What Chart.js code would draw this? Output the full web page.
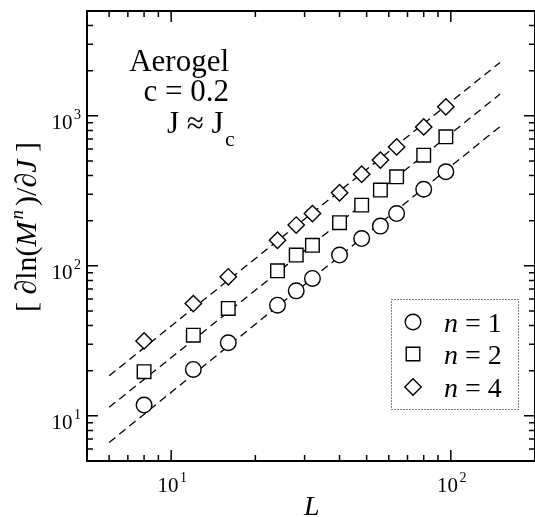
<!DOCTYPE html>
<html>
<head>
<meta charset="utf-8">
<script src="https://cdn.jsdelivr.net/npm/chart.js@4/dist/chart.umd.min.js"></script>
<style>
  html, body { margin: 0; padding: 0; background: #fff; overflow: hidden; }
  canvas { display: block; }
</style>
</head>
<body>
<canvas id="chart" width="535" height="517"></canvas>
<script>
// system sizes L and the measured values for each moment n
const sizes = [8, 12, 16, 24, 28, 32, 40, 48, 56, 64, 80, 96];
const n1 = [11.8, 20.4, 30.7, 54.7, 68.1, 82.4, 118, 152, 184, 223, 324, 424];
const n2 = [19.7, 34.5, 52, 92.6, 118, 137, 194, 254, 320, 392, 547, 725];
const n4 = [31.6, 56, 84.5, 148, 187, 223, 307, 408, 507, 621, 844, 1148];

// dashed power-law fits, end points
const fitL = [6, 150];
const fit1 = [6.65, 849];
const fit2 = [11.4, 1396];
const fit4 = [18.5, 2270];

// axis ranges and labelled decades
const xRange = [5, 200];
const yRange = [5, 5000];
const xDecades = [1, 2];
const yDecades = [1, 2, 3];
const legendLabels = ['1', '2', '4'];

const SERIF = '"Liberation Serif", "Times New Roman", serif';

function pts(xs, ys) {
  return xs.map((x, i) => ({ x: x, y: ys[i] }));
}

function markerSet(data, style, radius) {
  return {
    data: data,
    showLine: false,
    pointStyle: style,
    pointRadius: radius,
    pointHoverRadius: radius,
    pointBackgroundColor: '#fff',
    pointBorderColor: '#000',
    pointBorderWidth: 1.4
  };
}

function fitSet(data) {
  return {
    data: data,
    showLine: true,
    pointRadius: 0,
    borderColor: '#000',
    borderWidth: 1.3,
    borderDash: [8, 5]
  };
}

const styles = [['circle', 7.8], ['rect', 9.6], ['rectRot', 8.2]];

// "10" with a raised exponent
function drawPower(ctx, exp, x, y, align) {
  ctx.font = '21px ' + SERIF;
  const w1 = ctx.measureText('10').width;
  ctx.font = '14px ' + SERIF;
  const w2 = ctx.measureText(exp).width;
  const total = w1 + 1.5 + w2;
  let start = align === 'center' ? x - total / 2 : x - total;
  ctx.textAlign = 'left';
  ctx.textBaseline = 'alphabetic';
  ctx.font = '21px ' + SERIF;
  ctx.fillText('10', start, y);
  ctx.font = '14px ' + SERIF;
  ctx.fillText(exp, start + w1 + 1.5, y - 10);
}

function drawRuns(ctx, runs, x, y) {
  let cx = x;
  runs.forEach(r => {
    ctx.font = r.font;
    ctx.fillText(r.text, cx, y + (r.dy || 0));
    cx += ctx.measureText(r.text).width + (r.gap || 0);
  });
  return cx;
}

function runsWidth(ctx, runs) {
  let w = 0;
  runs.forEach(r => {
    ctx.font = r.font;
    w += ctx.measureText(r.text).width + (r.gap || 0);
  });
  return w;
}

const frame = {
  id: 'frame',
  afterDraw(chart) {
    const ctx = chart.ctx;
    const a = chart.chartArea;
    const xs = chart.scales.x;
    const ys = chart.scales.y;
    ctx.save();
    ctx.strokeStyle = '#000';
    ctx.fillStyle = '#000';

    // box (right side falls just past the canvas edge, as in the original)
    ctx.lineWidth = 2;
    ctx.strokeRect(a.left, a.top, a.right - a.left, a.bottom - a.top);

    // ticks, inward on all four sides
    ctx.lineWidth = 1.5;
    ctx.beginPath();
    for (let d = 0; d <= 3; d++) {
      for (let m = 1; m <= 9; m++) {
        const v = m * Math.pow(10, d);
        const len = m === 1 ? 11 : 6;
        if (v > xRange[0] && v < xRange[1]) {
          const px = xs.getPixelForValue(v);
          ctx.moveTo(px, a.bottom); ctx.lineTo(px, a.bottom - len);
          ctx.moveTo(px, a.top); ctx.lineTo(px, a.top + len);
        }
        if (v > yRange[0] && v < yRange[1]) {
          const py = ys.getPixelForValue(v);
          ctx.moveTo(a.left, py); ctx.lineTo(a.left + len, py);
          ctx.moveTo(a.right, py); ctx.lineTo(a.right - len, py);
        }
      }
    }
    ctx.stroke();

    // tick labels
    xDecades.forEach(e => {
      drawPower(ctx, String(e), xs.getPixelForValue(Math.pow(10, e)) + 1, a.bottom + 31, 'center');
    });
    yDecades.forEach(e => {
      drawPower(ctx, String(e), a.left - 6, ys.getPixelForValue(Math.pow(10, e)) + 13, 'right');
    });

    // axis titles
    ctx.textAlign = 'left';
    ctx.textBaseline = 'alphabetic';
    ctx.font = 'italic 28px ' + SERIF;
    ctx.fillText('L', 304, 515);

    const yTitle = [
      { text: '[ \u2202ln(', font: '30px ' + SERIF },
      { text: 'M', font: 'italic 30px ' + SERIF, gap: 2 },
      { text: 'n', font: 'italic 19px ' + SERIF, dy: -13, gap: 4 },
      { text: ')/\u2202', font: '30px ' + SERIF },
      { text: 'J', font: 'italic 30px ' + SERIF },
      { text: ' ]', font: '30px ' + SERIF }
    ];
    ctx.save();
    ctx.translate(36, 227);
    ctx.rotate(-Math.PI / 2);
    drawRuns(ctx, yTitle, -runsWidth(ctx, yTitle) / 2, 0);
    ctx.restore();

    // annotation
    ctx.font = '31px ' + SERIF;
    ctx.textAlign = 'right';
    ctx.fillText('Aerogel', 229, 71);
    ctx.fillText('c = 0.2', 229, 101);
    ctx.textAlign = 'left';
    ctx.fillText('J \u2248 J', 167, 133);
    ctx.font = '22px ' + SERIF;
    ctx.fillText('c', 225, 146);

    // legend box
    ctx.lineWidth = 1;
    ctx.setLineDash([1, 2]);
    ctx.strokeRect(391.5, 299.5, 127, 110);
    ctx.setLineDash([]);
    const rowY = [322, 354, 387];
    legendLabels.forEach((lab, i) => {
      ctx.fillStyle = '#fff';
      ctx.strokeStyle = '#000';
      ctx.lineWidth = 1.4;
      Chart.helpers.drawPoint(ctx, {
        pointStyle: styles[i][0], radius: styles[i][1], rotation: 0, borderWidth: 1.4
      }, 413, rowY[i]);
      ctx.fillStyle = '#000';
      drawRuns(ctx, [
        { text: 'n', font: 'italic 28px ' + SERIF },
        { text: ' = ' + lab, font: '28px ' + SERIF }
      ], 444, rowY[i] + 10);
    });

    ctx.restore();
  }
};

new Chart(document.getElementById('chart'), {
  type: 'scatter',
  data: {
    datasets: [
      markerSet(pts(sizes, n1), styles[0][0], styles[0][1]),
      markerSet(pts(sizes, n2), styles[1][0], styles[1][1]),
      markerSet(pts(sizes, n4), styles[2][0], styles[2][1]),
      fitSet(pts(fitL, fit1)),
      fitSet(pts(fitL, fit2)),
      fitSet(pts(fitL, fit4))
    ]
  },
  options: {
    responsive: false,
    animation: false,
    events: [],
    // no auto padding, otherwise the marker overflow shrinks the plot area
    layout: { autoPadding: false, padding: { left: 87, top: 11, right: -1, bottom: 56 } },
    plugins: { legend: { display: false }, tooltip: { enabled: false } },
    scales: {
      x: { type: 'logarithmic', min: xRange[0], max: xRange[1], display: false },
      y: { type: 'logarithmic', min: yRange[0], max: yRange[1], display: false }
    }
  },
  plugins: [frame]
});
</script>
</body>
</html>
